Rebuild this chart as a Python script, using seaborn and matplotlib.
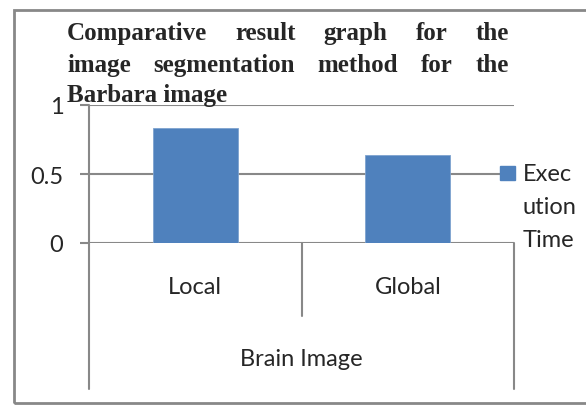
import matplotlib
matplotlib.use("Agg")
import matplotlib.pyplot as plt
import seaborn as sns
import pandas as pd
from matplotlib.patches import Rectangle

# dati
metodi = ["Local", "Global"]
tempi = [0.835, 0.635]
gruppo = "Brain Image"
legenda_righe = ["Exec", "ution", "Time"]
titolo_righe = [
    "Comparative result graph for the",
    "image segmentation method for the",
    "Barbara image",
]
y_ticks = [0, 0.5, 1]
y_labels = ["0", "0.5", "1"]

BLU = "#4F81BD"
GRIGIO = "#888888"
FS = 17  # etichette (stile Calibri)

sns.set_style("white")
plt.rcParams["font.family"] = ["Lato", "DejaVu Sans"]

df = pd.DataFrame({"metodo": metodi, "tempo": tempi})

W, H = 586, 406
fig = plt.figure(figsize=(W / 100, H / 100), dpi=100)
ax = fig.add_axes([89 / W, 1 - 244 / H, (514 - 89) / W, (244 - 106) / H])

sns.barplot(data=df, x="metodo", y="tempo", color=BLU, width=0.4,
            saturation=1, ax=ax, edgecolor="#7EA3CF", linewidth=0.6, zorder=2)
ax.set_xlim(-0.5, 1.5)
ax.set_ylim(0, 1)
ax.set_xlabel("")
ax.set_ylabel("")
ax.set_xticks([])
ax.set_yticks(y_ticks)
ax.set_yticklabels(y_labels, fontsize=FS)
ax.tick_params(axis="y", length=6.5, width=1.5, color=GRIGIO, pad=12, left=True)
for s in ["top", "right", "bottom", "left"]:
    ax.spines[s].set_visible(False)

# griglia orizzontale
for v in y_ticks:
    ax.axhline(v, color=GRIGIO, lw=1.5, zorder=0)

# asse y e tabella delle categorie sotto
alt = 138.0  # altezza assi in pixel
kw = dict(color=GRIGIO, lw=1.5, clip_on=False, transform=ax.transAxes)
ax.plot([0, 0], [1, -(390 - 244) / alt], **kw)
ax.plot([0.5, 0.5], [0, -(317 - 244) / alt], **kw)
ax.plot([1, 1], [0, -(390 - 244) / alt], **kw)
for i, m in enumerate(metodi):
    ax.text(0.25 + 0.5 * i, -(287 - 244) / alt, m, transform=ax.transAxes,
            ha="center", va="center", fontsize=FS)
ax.text(0.5, -(360 - 244) / alt, gruppo, transform=ax.transAxes,
        ha="center", va="center", fontsize=FS)

# legenda a mano (testo spezzato come nell'originale)
fig.patches.append(Rectangle((500 / W, 1 - 181 / H), 15 / W, 14 / H,
                             transform=fig.transFigure, color=BLU, zorder=5))
for k, (riga, yb) in enumerate(zip(legenda_righe, [181, 214, 247])):
    fig.text(523 / W, 1 - yb / H, riga, fontsize=FS, va="baseline", ha="left")

# titolo giustificato, parola per parola
fig.canvas.draw()
rend = fig.canvas.get_renderer()
x0, x1 = 67, 509
baseline = [40, 72, 102]
tfont = dict(family="Liberation Serif", weight="bold", fontsize=18)
for r, riga in enumerate(titolo_righe):
    parole = riga.split()
    yb = 1 - baseline[r] / H
    if r == len(titolo_righe) - 1:
        fig.text(x0 / W, yb, riga, va="baseline", ha="left", **tfont)
        continue
    testi = [fig.text(0, yb, p, va="baseline", ha="left", **tfont) for p in parole]
    larg = [t.get_window_extent(rend).width for t in testi]
    spazio = (x1 - x0 - sum(larg)) / (len(parole) - 1)
    x = x0
    for t, w in zip(testi, larg):
        t.set_x(x / W)
        x += w + spazio

# cornice (il lato destro esce dall'immagine)
fig.patches.append(Rectangle((14 / W, 2 / H), 1.0, 1 - 13 / H,
                             transform=fig.transFigure, fill=False,
                             edgecolor=GRIGIO, lw=2))

fig.savefig("out.png", dpi=100)
